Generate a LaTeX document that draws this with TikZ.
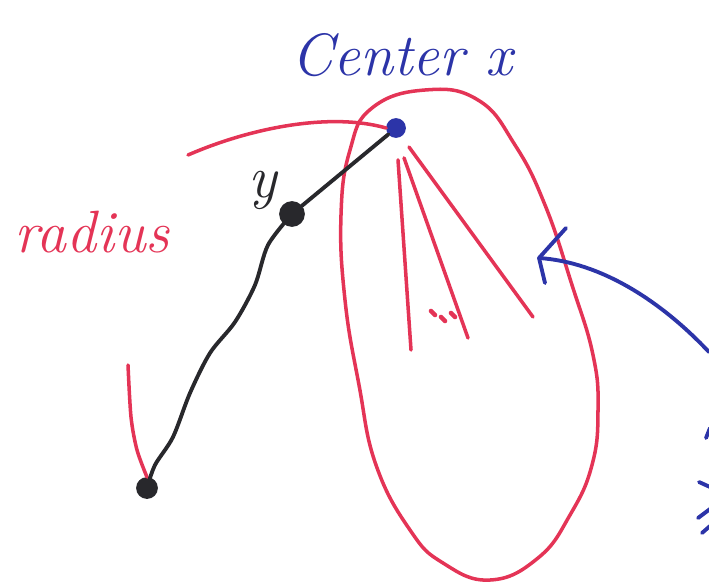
\documentclass[tikz,border=0pt]{standalone}
\usepackage{tikz}
\usetikzlibrary{positioning,arrows.meta}

\definecolor{penred}{RGB}{228,52,86}
\definecolor{penblue}{RGB}{44,52,168}
\definecolor{penblack}{RGB}{40,40,44}

\begin{document}
\begin{tikzpicture}[
  x=0.02cm, y=-0.02cm,
  redpen/.style={draw=penred, line width=2pt, line cap=round, line join=round},
  bluepen/.style={draw=penblue, line width=2.2pt, line cap=round, line join=round},
  blackpen/.style={draw=penblack, line width=2.2pt, line cap=round, line join=round},
  dot/.style={circle, inner sep=0pt, draw=penblack, line width=1pt},
  label/.style={font=\itshape\fontsize{34}{38}\selectfont, inner sep=0pt}
]
\useasboundingbox (0,0) rectangle (709,585);

% Points
\node[dot, fill=penblue, draw=penblue, minimum size=0.36cm] (cx) at (396,128) {};
\node[dot, fill=penblack, minimum size=0.48cm] (ydot) at (292,214) {};
\node[dot, fill=penblack, minimum size=0.4cm] (far) at (147,488) {};

% Labels
\node[label, text=penblue] (cx_label) at (402,55) {Center x};
\node[label, text=penblack] (y_label) at (263,190) {y};
\node[label, text=penred] (rad_label) at (92,232) {radius};

% Ball around the center
\draw[redpen] plot[smooth cycle, tension=0.75] coordinates {
  (545,205) (572,285) (593,355) (598,410) (592,465) (570,515) (538,558)
  (490,580) (443,563) (410,530) (376,465) (359,385) (345,300) (341,215)
  (350,150) (372,108) (425,90) (478,100) (515,145)};

% Radius marks
\draw[redpen] (188,155) .. controls (250,128) and (330,112) .. (cx.west);
\draw[redpen] plot[smooth] coordinates {(128,365) (131,417) (137,450) (far.north)};

% Rays from the center
\draw[redpen] (cx.south) ++(2,22) -- (411,350);
\draw[redpen] (cx.south) ++(8,20) -- (468,338);
\draw[redpen] (cx.south east) ++(6,12) -- (533,317);
\foreach \px/\py in {431/311, 441/317, 451/313}
  \draw[redpen, line width=2.6pt] (\px,\py) -- ++(4,4);

% Path from center to the far point
\draw[blackpen] (cx) -- (ydot);
\draw[blackpen] plot[smooth] coordinates {(ydot) (268,245) (255,285) (235,322)
  (210,353) (190,393) (173,437) (155,465) (far)};

% Arrow from the right
\coordinate (tip) at (539,258);
\coordinate (src) at (709,352);
\draw[bluepen] (src) .. controls (660,300) and (600,262) .. (tip);
\draw[bluepen] (tip) -- (566,228);
\draw[bluepen] (tip) -- (545,283);

% Cut-off text on the right edge
\draw[bluepen] (706,438) -- (710,428);
\draw[bluepen] (699,482) -- (710,487);
\draw[bluepen] (698,518) -- (710,509);
\draw[bluepen] (702,533) -- (710,526);

\end{tikzpicture}
\end{document}
